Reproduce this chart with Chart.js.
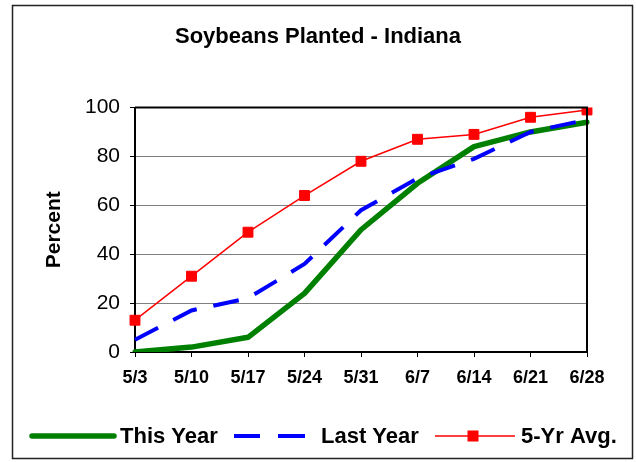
<!DOCTYPE html>
<html>
<head>
<meta charset="utf-8">
<script src="https://cdn.jsdelivr.net/npm/chart.js@4.4.1/dist/chart.umd.min.js"></script>
<style>
  html, body { margin: 0; padding: 0; background: #fff; }
  canvas { display: block; }
</style>
</head>
<body>
<canvas id="c" width="636" height="462"></canvas>
<script>
const categories = ['5/3', '5/10', '5/17', '5/24', '5/31', '6/7', '6/14', '6/21', '6/28'];
const thisYear   = [0, 2, 6, 24, 50, 69, 84, 90, 94];
const lastYear   = [5, 17, 22, 36, 58, 71, 79, 90, 95];
const fiveYrAvg  = [13, 31, 49, 64, 78, 87, 89, 96, 99];
const seriesNames = ['This Year', 'Last Year', '5-Yr Avg.'];
const yTickValues = [0, 20, 40, 60, 80, 100];

const FONT = "'Liberation Sans', Arial, Helvetica, sans-serif";
Chart.defaults.color = '#000';
Chart.defaults.font.family = FONT;

const framePlugin = {
  id: 'frame',
  beforeDraw(chart) {
    const ctx = chart.ctx;
    ctx.save();
    ctx.fillStyle = '#fff';
    ctx.fillRect(0, 0, chart.width, chart.height);
    ctx.restore();
  },
  afterDraw(chart) {
    const ctx = chart.ctx;
    const a = chart.chartArea;
    ctx.save();
    ctx.strokeStyle = '#000';
    ctx.lineWidth = 2;
    ctx.beginPath();
    ctx.moveTo(a.left, a.top);
    ctx.lineTo(a.right, a.top);
    ctx.lineTo(a.right, a.bottom);
    ctx.stroke();
    ctx.strokeStyle = '#222';
    ctx.lineWidth = 1.5;
    ctx.strokeRect(12.5, 5.5, 620, 453);
    ctx.restore();
  }
};

const legendPlugin = {
  id: 'customLegend',
  afterDraw(chart) {
    const ctx = chart.ctx;
    const ds = chart.data.datasets;
    const y = 436;
    ctx.save();
    ctx.font = 'bold 22px ' + FONT;
    ctx.textBaseline = 'middle';
    ctx.textAlign = 'left';
    ctx.fillStyle = '#000';
    ctx.strokeStyle = ds[0].borderColor;
    ctx.lineWidth = ds[0].borderWidth;
    ctx.lineCap = 'round';
    ctx.beginPath(); ctx.moveTo(32, y); ctx.lineTo(114, y); ctx.stroke();
    ctx.fillText(ds[0].label, 120, y + 1);
    ctx.strokeStyle = ds[1].borderColor;
    ctx.lineWidth = ds[1].borderWidth;
    ctx.lineCap = 'butt';
    ctx.beginPath(); ctx.moveTo(234, y); ctx.lineTo(260, y); ctx.stroke();
    ctx.beginPath(); ctx.moveTo(278, y); ctx.lineTo(305, y); ctx.stroke();
    ctx.fillText(ds[1].label, 321, y + 1);
    ctx.strokeStyle = ds[2].borderColor;
    ctx.lineWidth = ds[2].borderWidth;
    ctx.beginPath(); ctx.moveTo(435, y); ctx.lineTo(515, y); ctx.stroke();
    ctx.fillStyle = ds[2].pointBackgroundColor;
    ctx.fillRect(473 - 5.5, y - 5.5, 11, 11);
    ctx.fillStyle = '#000';
    ctx.fillText(ds[2].label, 521, y + 1);
    ctx.restore();
  }
};

new Chart(document.getElementById('c'), {
  type: 'line',
  data: {
    labels: categories,
    datasets: [
      {
        label: seriesNames[0], data: thisYear,
        borderColor: '#008000', backgroundColor: '#008000',
        borderWidth: 5.5, pointRadius: 0, tension: 0,
        borderJoinStyle: 'round', borderCapStyle: 'round', order: 3
      },
      {
        label: seriesNames[1], data: lastYear,
        borderColor: '#0000FF', backgroundColor: '#0000FF',
        borderWidth: 4, borderDash: [26, 17], pointRadius: 0, tension: 0, order: 2
      },
      {
        label: seriesNames[2], data: fiveYrAvg,
        borderColor: '#FF0000', backgroundColor: '#FF0000',
        borderWidth: 1.5, pointStyle: 'rect', pointRadius: 7,
        pointBackgroundColor: '#FF0000', pointBorderColor: '#FF0000', pointBorderWidth: 1,
        tension: 0, order: 1
      }
    ]
  },
  options: {
    responsive: false,
    animation: false,
    events: [],
    layout: { padding: { top: 0, left: 0, right: 0, bottom: 70 } },
    plugins: {
      legend: { display: false },
      tooltip: { enabled: false },
      title: {
        display: true,
        text: 'Soybeans Planted - Indiana',
        color: '#000',
        font: { family: FONT, size: 22, weight: 'bold', lineHeight: 1.2 },
        padding: { top: 23.8, bottom: 57.3 }
      }
    },
    scales: {
      x: {
        type: 'category',
        offset: false,
        afterFit(scale) { scale.height = 40; },
        grid: { drawOnChartArea: false, drawTicks: true, tickLength: 5, tickColor: '#000' },
        border: { display: true, color: '#000', width: 2 },
        ticks: {
          color: '#000', maxRotation: 0, autoSkip: false, padding: 10,
          font: { family: FONT, size: 18, weight: 'bold' }
        }
      },
      y: {
        min: 0, max: 100,
        afterFit(scale) { scale.width = 135; },
        afterBuildTicks(scale) { scale.ticks = yTickValues.map(v => ({ value: v })); },
        grid: { color: '#808080', lineWidth: 1, drawTicks: true, tickLength: 5, tickColor: '#000' },
        border: { display: true, color: '#000', width: 2 },
        ticks: {
          color: '#000', padding: 10,
          font: { family: FONT, size: 21 }
        },
        title: {
          display: true, text: 'Percent', color: '#000',
          font: { family: FONT, size: 21, weight: 'bold', lineHeight: 1.2 },
          padding: { top: 41.4, bottom: 0 }
        }
      },
      yRight: {
        position: 'right',
        min: 0, max: 100,
        afterFit(scale) { scale.width = 49; },
        grid: { display: false, drawOnChartArea: false },
        border: { display: false },
        ticks: { display: false }
      }
    }
  },
  plugins: [framePlugin, legendPlugin]
});
</script>
</body>
</html>
